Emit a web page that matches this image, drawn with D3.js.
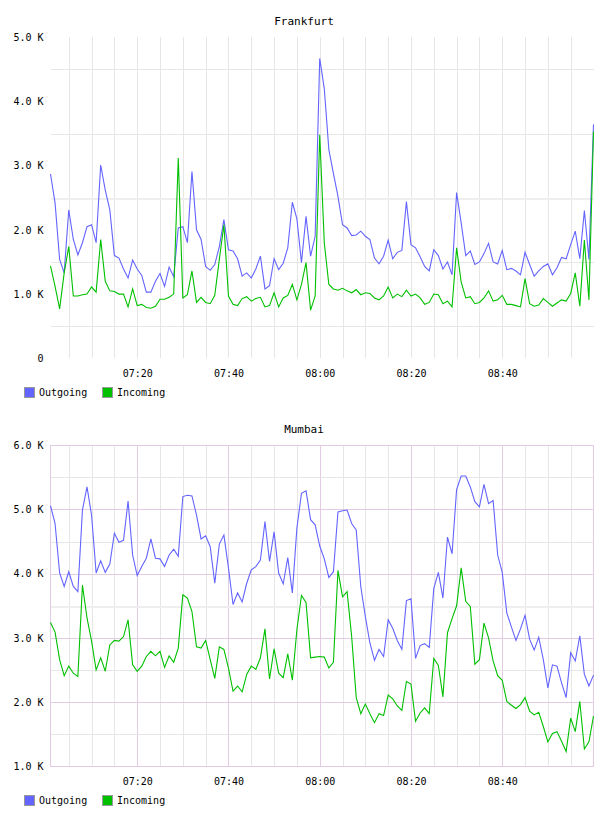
<!DOCTYPE html>
<html>
<head>
<meta charset="utf-8">
<script src="https://cdn.jsdelivr.net/npm/d3@7"></script>
<style>
  body { margin: 0; background: #fff; }
  text { font-family: "DejaVu Sans Mono", monospace; fill: #000; }
</style>
</head>
<body>
<svg id="chart" width="608" height="816"></svg>
<script>
// one sample per minute, first sample at 07:01
let start_time = new Date(2019, 0, 1, 7, 1);

let series_names = ["Outgoing", "Incoming"];
let series_colors = ["#6464ff", "#00c000"];
let time_ticks = ["07:20", "07:40", "08:00", "08:20", "08:40"];

let frankfurt_ticks = [0, 1000, 2000, 3000, 4000, 5000];
let mumbai_ticks = [1000, 2000, 3000, 4000, 5000, 6000];

let frankfurt_out = [
  2870, 2420, 1540, 1330, 2310, 1850, 1610, 1800, 2050, 2080, 1800, 3010, 2620, 2310, 1600,
  1560, 1390, 1250, 1530, 1390, 1290, 1030, 1030, 1200, 1320, 1120, 1420, 1270, 2030, 2050,
  1800, 2910, 2000, 1850, 1430, 1370, 1460, 1740, 2160, 1690, 1670, 1550, 1280, 1330, 1250,
  1390, 1590, 1080, 1130, 1550, 1380, 1480, 1720, 2430, 2170, 1490, 2210, 1590, 1900, 4670,
  4200, 3250, 2880, 2520, 2080, 2030, 1910, 1920, 1980, 1900, 1850, 1560, 1470, 1590, 1840,
  1550, 1650, 1680, 2440, 1770, 1720, 1580, 1430, 1360, 1690, 1600, 1390, 1500, 1300, 2580,
  2110, 1600, 1670, 1460, 1500, 1630, 1790, 1500, 1470, 1680, 1380, 1400, 1360, 1300, 1650,
  1460, 1280, 1360, 1430, 1470, 1300, 1410, 1570, 1550, 1770, 1980, 1550, 2300, 1540, 3640
];
let frankfurt_in = [
  1440, 1120, 770, 1330, 1740, 970, 970, 990, 1000, 1110, 1030, 1850, 1200, 1050, 1040,
  1000, 1000, 800, 1080, 820, 840, 790, 780, 810, 920, 920, 950, 1000, 3120, 940,
  990, 1360, 870, 950, 870, 850, 980, 1540, 2080, 970, 840, 820, 930, 960, 890,
  930, 950, 800, 820, 1020, 800, 940, 980, 1150, 910, 1150, 1490, 750, 970, 3480,
  1800, 1150, 1080, 1060, 1090, 1050, 1020, 1070, 990, 1020, 1010, 940, 910, 970, 1110,
  940, 1000, 960, 1060, 970, 1000, 940, 840, 870, 1000, 990, 850, 890, 800, 1720,
  1190, 940, 960, 850, 870, 940, 1050, 890, 910, 980, 840, 840, 820, 800, 1240,
  850, 810, 830, 930, 870, 810, 860, 910, 890, 1010, 1330, 810, 1840, 910, 3530
];
let mumbai_out = [
  5060, 4780, 4010, 3800, 4030, 3800, 3720, 4990, 5350, 4910, 4010, 4200, 4020, 4150, 4630,
  4490, 4520, 5130, 4290, 3970, 4110, 4240, 4540, 4240, 4230, 4110, 4290, 4380, 4270, 5200,
  5220, 5210, 4910, 4540, 4590, 4420, 3850, 4460, 4600, 4090, 3520, 3700, 3560, 3850, 4060,
  4110, 4210, 4810, 4190, 4650, 4010, 3840, 4250, 3700, 4710, 5250, 5290, 4840, 4760, 4430,
  4230, 3940, 4030, 4960, 4980, 4990, 4780, 4680, 3800, 3330, 2920, 2650, 2820, 2710, 3280,
  3150, 2960, 2820, 3580, 3610, 2680, 2880, 2910, 2850, 3770, 4020, 3620, 4570, 4310, 5310,
  5520, 5520, 5350, 5120, 5040, 5390, 5090, 5140, 4290, 4020, 3390, 3170, 2960, 3140, 3350,
  2980, 2810, 3010, 2660, 2220, 2580, 2560, 2300, 2070, 2770, 2640, 3030, 2430, 2250, 2420
];
let mumbai_in = [
  3240, 3090, 2660, 2410, 2560, 2450, 2400, 3820, 3310, 2950, 2500, 2690, 2480, 2890, 2960,
  2950, 3020, 3280, 2580, 2480, 2560, 2710, 2790, 2720, 2790, 2540, 2720, 2620, 2840, 3670,
  3620, 3410, 2860, 2840, 2960, 2660, 2370, 2860, 2820, 2530, 2170, 2250, 2160, 2430, 2560,
  2510, 2690, 3140, 2360, 2830, 2450, 2380, 2750, 2340, 3130, 3660, 3550, 2690, 2700, 2710,
  2700, 2530, 2620, 4050, 3640, 3720, 3020, 2070, 1820, 1970, 1820, 1680, 1820, 1790, 2110,
  2050, 1940, 1870, 2320, 2280, 1700, 1830, 1910, 1820, 2680, 2570, 2080, 3080, 3300, 3500,
  4090, 3570, 3490, 2590, 2660, 3230, 3000, 2640, 2410, 2340, 2010, 1950, 1900, 1960, 2070,
  1860, 1800, 1840, 1620, 1380, 1510, 1540, 1390, 1230, 1750, 1540, 2010, 1270, 1380, 1780
];

let svg = d3.select("#chart");

let times = frankfurt_out.map((d, i) => d3.timeMinute.offset(start_time, i));
let tick_times = time_ticks.map(t => {
  let p = t.split(":");
  return new Date(2019, 0, 1, +p[0], +p[1]);
});

let fmtValue = v => (v === 0 ? "0" : d3.format(".1f")(v / 1000) + " K");

let panels = [
  { title: "Frankfurt", top: 0, ticks: frankfurt_ticks, series: [frankfurt_out, frankfurt_in], framed: false },
  { title: "Mumbai", top: 408, ticks: mumbai_ticks, series: [mumbai_out, mumbai_in], framed: true }
];

let x = d3.scaleTime()
  .domain([times[0], times[times.length - 1]])
  .range([50.5, 593.5]);

let gray = "#e6e6e6";
let pink = "#e4cbe4";

panels.forEach(function(p) {
  let g = svg.append("g").attr("transform", "translate(0," + p.top + ")");
  let lo = p.ticks[0], hi = p.ticks[p.ticks.length - 1];
  let y = d3.scaleLinear().domain([lo, hi]).range([358.3, 37.2]);

  let grid = g.append("g").attr("shape-rendering", "crispEdges");

  // minor vertical lines every 5 minutes, major every 20
  let fives = d3.timeMinute.every(5).range(times[0], times[times.length - 1]);
  fives.forEach(function(t) {
    let major = p.framed && t.getMinutes() % 20 === 0;
    grid.append("line")
      .attr("x1", Math.round(x(t)) + 0.5).attr("x2", Math.round(x(t)) + 0.5)
      .attr("y1", y(hi)).attr("y2", y(lo))
      .attr("stroke", major ? pink : gray);
  });

  // horizontal lines every half K
  d3.range(lo + 500, hi, 500).forEach(function(v) {
    let major = v % 1000 === 0;
    if (major && !p.framed) return;
    let mid = v === (lo + hi) / 2;
    grid.append("line")
      .attr("x1", x.range()[0]).attr("x2", x.range()[1])
      .attr("y1", Math.round(y(v)) + 0.5).attr("y2", Math.round(y(v)) + 0.5)
      .attr("stroke", major ? pink : mid ? "#eeeeee" : gray)
      .attr("stroke-width", mid ? 2 : 1);
  });

  if (p.framed) {
    grid.append("rect")
      .attr("x", 50.5).attr("y", Math.round(y(hi)) + 0.5)
      .attr("width", 543).attr("height", Math.round(y(lo)) - Math.round(y(hi)))
      .attr("fill", "none").attr("stroke", pink);
  }

  // lines
  let line = d3.line()
    .x((d, i) => x(times[i]))
    .y(d => y(d));
  p.series.forEach(function(s, k) {
    g.append("path")
      .datum(s)
      .attr("d", line)
      .attr("fill", "none")
      .attr("stroke", series_colors[k])
      .attr("stroke-width", 1.1)
      .attr("stroke-linejoin", "miter");
  });

  // axes
  let ya = g.append("g")
    .attr("transform", "translate(50.5,0)")
    .call(d3.axisLeft(y).tickValues(p.ticks).tickSize(0).tickPadding(7).tickFormat(fmtValue));
  ya.select(".domain").remove();
  ya.selectAll("text").attr("dy", "0.32em").style("font-size", "10px")
    .style("font-family", "'DejaVu Sans Mono', monospace");

  let xa = g.append("g")
    .attr("transform", "translate(0," + y(lo) + ")")
    .call(d3.axisBottom(x).tickValues(tick_times).tickSize(0).tickPadding(12)
      .tickFormat(d3.timeFormat("%H:%M")));
  xa.select(".domain").remove();
  xa.selectAll("text").style("font-size", "10px")
    .style("font-family", "'DejaVu Sans Mono', monospace");

  // title
  g.append("text")
    .attr("x", 304).attr("y", 25)
    .attr("text-anchor", "middle")
    .style("font-size", "11px")
    .text(p.title);

  // legend
  let legend_x = [24, 102];
  series_names.forEach(function(name, k) {
    g.append("rect")
      .attr("x", legend_x[k] + 0.5).attr("y", 387.5)
      .attr("width", 10).attr("height", 10)
      .attr("fill", series_colors[k])
      .attr("stroke", "#999");
    g.append("text")
      .attr("x", legend_x[k] + 15).attr("y", 396)
      .style("font-size", "10px")
      .text(name);
  });
});
</script>
</body>
</html>
